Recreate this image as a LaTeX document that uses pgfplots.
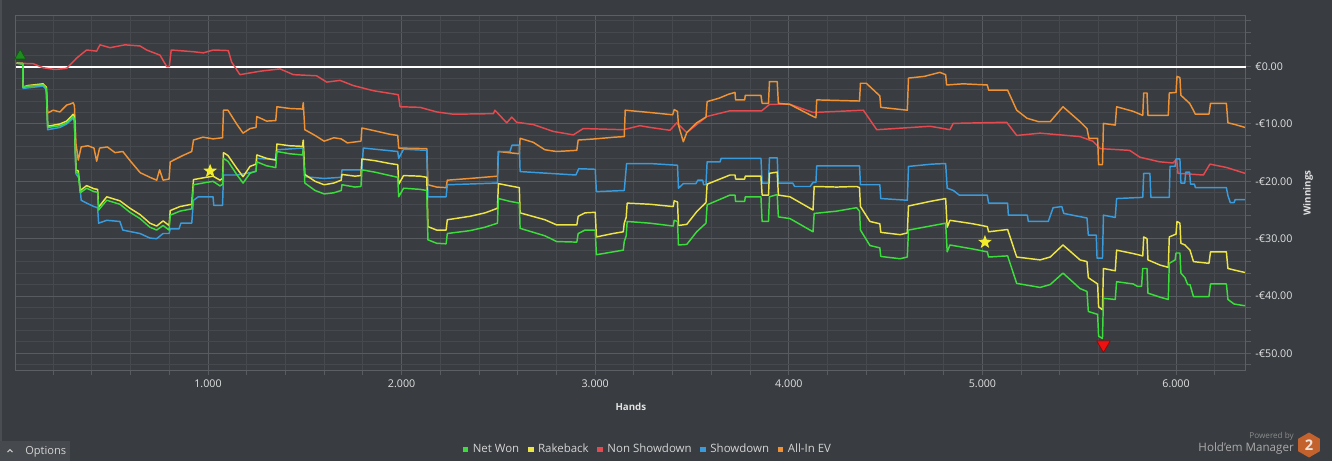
\documentclass[border=0pt]{standalone}
\usepackage{fontspec}
\setmainfont{Open Sans}
\usepackage{pgfplots}
\pgfplotsset{compat=1.18}
\definecolor{bg}{HTML}{393C40}
\definecolor{frame}{HTML}{5C5F63}
\definecolor{majgrid}{HTML}{585B5F}
\definecolor{mingrid}{HTML}{46494D}
\definecolor{ticktext}{HTML}{E2E2E2}
\definecolor{legtext}{HTML}{D4D4D4}
\definecolor{netwon}{HTML}{3CDC3C}
\definecolor{rakeback}{HTML}{EDE445}
\definecolor{nonsd}{HTML}{E24A4F}
\definecolor{sd}{HTML}{3A9BDC}
\definecolor{aiev}{HTML}{EE9235}
\definecolor{hexc}{HTML}{C4622D}
\definecolor{winborder}{HTML}{4A4D51}
\definecolor{optbox}{HTML}{46494D}
\definecolor{caretc}{HTML}{C8C8C8}
\definecolor{pby}{HTML}{8C8C8C}
\definecolor{hmc}{HTML}{ABABAB}
\definecolor{twoc}{HTML}{EDE3DA}
\definecolor{gtri}{HTML}{1E8C1E}
\definecolor{gtrid}{HTML}{0F5A0F}
\definecolor{rtri}{HTML}{EE1111}
\definecolor{rtrid}{HTML}{A00000}
\definecolor{starc}{HTML}{F2EC2A}
\pgfdeclareplotmark{fstar}{%
  \pgfpathmoveto{\pgfpointpolar{90}{\pgfplotmarksize}}%
  \pgfpathlineto{\pgfpointpolar{126}{0.42\pgfplotmarksize}}%
  \pgfpathlineto{\pgfpointpolar{162}{\pgfplotmarksize}}%
  \pgfpathlineto{\pgfpointpolar{198}{0.42\pgfplotmarksize}}%
  \pgfpathlineto{\pgfpointpolar{234}{\pgfplotmarksize}}%
  \pgfpathlineto{\pgfpointpolar{270}{0.42\pgfplotmarksize}}%
  \pgfpathlineto{\pgfpointpolar{306}{\pgfplotmarksize}}%
  \pgfpathlineto{\pgfpointpolar{342}{0.42\pgfplotmarksize}}%
  \pgfpathlineto{\pgfpointpolar{18}{\pgfplotmarksize}}%
  \pgfpathlineto{\pgfpointpolar{54}{0.42\pgfplotmarksize}}%
  \pgfpathclose\pgfusepathqfill}
\begin{document}
\begin{tikzpicture}
\fill[bg] (0pt,0pt) rectangle (999pt,-345.75pt);
\useasboundingbox (0pt,0pt) rectangle (999pt,-345.75pt);
\begin{scope}[x=0.75pt,y=-0.75pt]
\fill[winborder] (0,0) rectangle (1.5,441);
\fill[optbox] (0,441) rectangle (70,461);
\draw[caretc,line width=0.8pt] (7.5,452) -- (10,449.5) -- (12.5,452);
\node[anchor=base west,inner sep=0pt,text=legtext,font=\fontsize{8.3}{10}\selectfont] at (25,454.5) {Options};
\node[anchor=base east,inner sep=0pt,text=pby,font=\fontsize{6.1}{7}\selectfont] at (1294,438.5) {Powered by};
\node[anchor=base east,inner sep=0pt,text=hmc,font=\fontsize{8.7}{10}\selectfont] at (1294,451.5) {Hold'em Manager};
\fill[hexc] (1309,432.5) -- (1319.8,438.75) -- (1319.8,451.25) -- (1309,457.5) -- (1298.2,451.25) -- (1298.2,438.75) -- cycle;
\node[inner sep=0pt,text=twoc,font=\bfseries\fontsize{11}{12}\selectfont] at (1309,445) {2};
\end{scope}
\begin{axis}[
  at={(12pt,-11.25pt)}, anchor=north west,
  scale only axis, width=922.3pt, height=266.25pt,
  xmin=8.3, xmax=6360, ymin=-52.9, ymax=9.0,
  axis line style={draw=frame, line width=0.75pt},
  xtick={1000,2000,3000,4000,5000,6000},
  xticklabels={1.000,2.000,3.000,4.000,5.000,6.000},
  minor xtick={200,400,600,800,1200,1400,1600,1800,2200,2400,2600,2800,3200,3400,3600,3800,4200,4400,4600,4800,5200,5400,5600,5800,6200},
  ytick={0,-10,-20,-30,-40,-50},
  yticklabels={€0.00,-€10.00,-€20.00,-€30.00,-€40.00,-€50.00},
  minor ytick={8,6,4,2,-2,-4,-6,-8,-12,-14,-16,-18,-22,-24,-26,-28,-32,-34,-36,-38,-42,-44,-46,-48,-52},
  grid=both,
  major grid style={draw=majgrid, line width=0.75pt},
  minor grid style={draw=mingrid, line width=0.75pt},
  tick align=outside, xtick pos=left, ytick pos=right, yticklabel pos=right,
  major tick length=3.75pt, minor tick length=3.75pt,
  tick style={draw=majgrid, line width=0.75pt},
  xticklabel style={font=\fontsize{8}{9}\selectfont, text=ticktext},
  yticklabel style={font=\fontsize{8}{9}\selectfont, text=ticktext, anchor=west},
  xlabel={Hands}, ylabel={Winnings},
  xlabel style={at={(axis description cs:0.5,-0.104)}, anchor=center, font=\bfseries\fontsize{7.3}{9}\selectfont, text=ticktext},
  ylabel style={at={(axis description cs:1.0507,0.4986)}, anchor=center, font=\bfseries\fontsize{7.3}{9}\selectfont, text=ticktext},
  legend columns=5,
  legend style={at={(axis description cs:0.5136,-0.2234)}, anchor=center, draw=none, fill=none, text=legtext, font=\fontsize{8.6}{10}\selectfont, nodes={inner sep=1pt}, /tikz/every odd column/.append style={column sep=2.4pt}, /tikz/every even column/.append style={column sep=5.6pt}},
  legend image code/.code={\path[#1] (0pt,-2.05pt) rectangle (4.1pt,2.05pt);},
  every axis plot/.append style={line width=1.1pt, line join=round},
]
\addlegendimage{fill=netwon,draw=none}\addlegendentry{Net Won}
\addlegendimage{fill=rakeback,draw=none}\addlegendentry{Rakeback}
\addlegendimage{fill=nonsd,draw=none}\addlegendentry{Non Showdown}
\addlegendimage{fill=sd,draw=none}\addlegendentry{Showdown}
\addlegendimage{fill=aiev,draw=none}\addlegendentry{All-In EV}

\addplot[white, line width=1.5pt, forget plot] coordinates {(8.3,0) (6360,0)};

% Non Showdown
\addplot[nonsd, forget plot] coordinates {
(12,0.6) (98,0.5) (149,-0.2) (210,-0.5) (270,-0.3) (322,1.5) (373,2.9) (425,2.7) (442,3.8) (494,3.3) (571,3.8) (649,3.6) (683,2.9) (752,2.0) (787,0.0) (800,0.0) (810,2.9) (924,2.6) (976,2.4) (1027,2.9) (1105,2.8) (1122,0.8) (1165,-1.4) (1269,-0.8) (1372,-0.4) (1441,-1.4) (1561,-1.6) (1613,-2.7) (1682,-2.4) (1750,-3.3) (1854,-4.2) (1983,-4.9) (1992,-7.0) (2095,-7.1) (2181,-7.9) (2267,-8.3) (2474,-8.2) (2482,-7.6) (2543,-9.8) (2569,-8.8) (2594,-9.7) (2680,-10.1) (2783,-11.3) (2887,-11.9) (2938,-10.8) (3145,-11.0) (3231,-10.3) (3283,-10.6) (3386,-11.1) (3421,-9.8) (3473,-11.5) (3576,-8.7) (3696,-7.7) (3860,-7.7) (3900,-6.6) (4000,-6.5) (4126,-8.0) (4385,-7.6) (4454,-11.0) (4729,-10.4) (4800,-10.8) (4832,-11.0) (4849,-9.9) (5125,-9.7) (5177,-12.0) (5298,-11.6) (5504,-12.2) (5570,-13.0) (5608,-14.3) (5760,-14.6) (5814,-15.8) (5915,-16.6) (5985,-16.8) (6003,-16.1) (6010,-18.6) (6141,-18.9) (6175,-17.0) (6262,-17.6) (6356,-18.6)
};

% All-In EV
\addplot[aiev, forget plot] coordinates {
(12,0.6) (43,0.5) (45,-3.6) (70,-3.4) (148,-3.2) (165,-3.6) (172,-8.1) (200,-7.6) (235,-7.9) (270,-6.7) (290,-6.5) (304,-6.3) (310,-6.8) (318,-13.4) (330,-16.3) (345,-14.0) (380,-13.8) (411,-14.2) (425,-16.5) (440,-14.2) (480,-14.0) (520,-15.0) (560,-14.8) (600,-16.5) (650,-18.5) (700,-19.3) (735,-19.8) (750,-18.0) (768,-19.8) (799,-19.6) (805,-16.6) (870,-15.5) (916,-14.8) (925,-12.8) (974,-12.3) (1026,-12.6) (1075,-12.4) (1080,-7.6) (1103,-7.6) (1148,-10.0) (1181,-11.6) (1217,-10.8) (1248,-10.6) (1252,-8.7) (1303,-9.5) (1350,-9.4) (1356,-7.0) (1423,-7.3) (1488,-7.4) (1492,-6.3) (1500,-11.0) (1553,-12.0) (1600,-13.0) (1650,-12.4) (1688,-12.6) (1720,-13.3) (1790,-13.0) (1795,-10.7) (1862,-11.2) (1940,-11.8) (1980,-12.0) (1985,-14.2) (2130,-14.3) (2136,-20.6) (2181,-21.0) (2230,-21.1) (2236,-19.8) (2353,-19.5) (2495,-19.1) (2500,-14.8) (2608,-15.2) (2612,-12.5) (2680,-13.2) (2740,-14.5) (2800,-14.8) (2905,-14.6) (2912,-12.8) (3000,-12.6) (3100,-12.3) (3150,-12.2) (3155,-7.6) (3283,-8.0) (3400,-8.4) (3408,-7.5) (3425,-7.8) (3430,-10.2) (3455,-13.1) (3473,-11.5) (3524,-9.8) (3572,-8.8) (3578,-6.1) (3640,-5.5) (3690,-4.8) (3722,-4.5) (3725,-5.8) (3772,-5.8) (3775,-5.0) (3856,-5.0) (3862,-6.4) (3895,-6.4) (3900,-2.6) (3940,-2.6) (3946,-6.4) (4006,-6.6) (4126,-8.7) (4140,-8.9) (4144,-5.8) (4365,-6.0) (4370,-2.9) (4400,-2.9) (4470,-5.1) (4475,-7.1) (4612,-7.6) (4618,-2.0) (4700,-1.7) (4780,-1.0) (4810,-1.4) (4815,-3.2) (4900,-3.0) (5025,-3.2) (5032,-4.1) (5130,-4.1) (5177,-7.6) (5230,-9.0) (5290,-9.6) (5350,-9.6) (5416,-7.0) (5504,-9.6) (5540,-10.8) (5550,-12.5) (5595,-12.5) (5600,-17.1) (5620,-17.1) (5625,-9.9) (5686,-10.2) (5693,-7.0) (5779,-7.8) (5828,-8.5) (5833,-4.6) (5850,-4.6) (5855,-8.5) (5960,-8.5) (5965,-4.6) (6000,-4.5) (6005,-1.7) (6020,-1.9) (6025,-5.0) (6070,-6.4) (6080,-7.0) (6100,-8.3) (6170,-8.3) (6178,-6.4) (6260,-6.4) (6268,-9.8) (6305,-10.1) (6356,-10.6)
};

% Showdown
\addplot[sd, forget plot] coordinates {
(12,0.6) (43,0.5) (45,-3.8) (70,-3.7) (148,-3.4) (165,-4.0) (172,-11.0) (235,-10.6) (270,-10.0) (304,-9.0) (310,-9.5) (318,-18.7) (335,-19.5) (345,-23.3) (373,-23.8) (411,-24.4) (430,-24.6) (435,-27.3) (477,-26.8) (545,-27.0) (560,-28.5) (649,-29.1) (700,-29.9) (735,-30.0) (768,-29.1) (799,-29.1) (805,-28.3) (850,-28.3) (860,-27.3) (916,-27.3) (925,-23.3) (950,-22.7) (1026,-22.7) (1030,-24.2) (1075,-24.2) (1080,-18.9) (1150,-18.9) (1248,-18.3) (1252,-16.0) (1350,-16.2) (1356,-14.5) (1488,-14.2) (1492,-14.2) (1500,-19.2) (1600,-19.5) (1688,-19.3) (1692,-18.0) (1795,-18.0) (1802,-14.2) (1980,-14.8) (1985,-16.0) (2010,-14.4) (2130,-14.6) (2136,-22.7) (2230,-22.7) (2236,-20.6) (2495,-20.3) (2500,-14.8) (2560,-14.8) (2570,-13.7) (2608,-13.7) (2612,-18.3) (2900,-18.9) (2915,-17.8) (3000,-17.9) (3006,-21.8) (3150,-21.6) (3162,-16.9) (3283,-16.9) (3425,-17.2) (3430,-21.2) (3455,-20.4) (3520,-20.4) (3530,-19.8) (3555,-19.8) (3560,-20.6) (3572,-20.6) (3578,-16.6) (3645,-16.6) (3650,-16.0) (3780,-16.0) (3856,-16.0) (3862,-20.3) (3895,-20.3) (3900,-15.9) (3940,-15.9) (3946,-20.3) (4020,-20.3) (4030,-20.9) (4110,-20.9) (4125,-20.2) (4140,-20.2) (4144,-17.3) (4365,-17.3) (4370,-20.6) (4470,-20.6) (4475,-23.0) (4612,-23.3) (4618,-17.4) (4740,-17.0) (4810,-16.9) (4818,-21.2) (4850,-21.6) (4880,-22.4) (5025,-22.4) (5032,-23.8) (5130,-23.8) (5134,-25.9) (5232,-25.9) (5237,-27.0) (5340,-27.0) (5365,-24.6) (5410,-24.4) (5420,-25.6) (5540,-26.4) (5547,-29.4) (5588,-29.4) (5592,-33.4) (5620,-33.4) (5625,-25.9) (5686,-26.3) (5693,-23.0) (5828,-22.8) (5833,-18.6) (5865,-18.6) (5870,-22.8) (5965,-22.8) (5969,-17.4) (5995,-17.4) (6000,-16.1) (6020,-16.1) (6025,-20.3) (6045,-20.3) (6050,-18.4) (6070,-18.4) (6075,-20.5) (6095,-20.5) (6100,-21.1) (6260,-21.1) (6268,-22.5) (6280,-23.7) (6300,-23.7) (6305,-23.2) (6356,-23.2)
};

% Rakeback
\addplot[rakeback, forget plot] coordinates {
(12,0.6) (43,0.55) (45,-3.55) (70,-3.3) (148,-3.0) (165,-3.6) (172,-10.4) (235,-10.0) (270,-9.5) (304,-8.3) (310,-8.8) (318,-18.0) (330,-18.2) (340,-21.6) (373,-20.75) (411,-21.3) (430,-21.4) (435,-24.5) (477,-22.7) (545,-23.4) (597,-24.7) (649,-25.8) (700,-27.3) (735,-27.8) (768,-26.9) (799,-27.7) (805,-25.1) (855,-24.4) (916,-24.0) (925,-19.7) (974,-19.4) (1026,-19.1) (1062,-19.8) (1075,-19.5) (1080,-15.0) (1103,-15.5) (1148,-17.7) (1181,-19.2) (1217,-17.4) (1248,-17.0) (1252,-15.4) (1303,-16.0) (1350,-16.3) (1356,-13.5) (1423,-13.8) (1488,-13.9) (1492,-12.8) (1500,-18.8) (1553,-20.0) (1600,-20.6) (1650,-20.3) (1688,-19.8) (1692,-18.8) (1759,-19.1) (1790,-19.0) (1795,-16.1) (1862,-16.4) (1940,-16.9) (1980,-17.1) (1985,-20.5) (2010,-19.0) (2095,-19.1) (2130,-19.3) (2136,-27.9) (2181,-28.5) (2230,-28.5) (2236,-26.7) (2353,-26.1) (2431,-25.5) (2495,-24.7) (2500,-20.4) (2560,-20.8) (2608,-21.1) (2612,-25.5) (2740,-26.7) (2801,-27.6) (2905,-27.6) (2912,-26.1) (2947,-25.5) (3000,-25.4) (3006,-29.7) (3092,-29.1) (3145,-28.8) (3150,-27.3) (3160,-26.3) (3165,-23.8) (3283,-24.0) (3403,-24.4) (3408,-23.4) (3425,-23.6) (3430,-27.7) (3473,-27.5) (3524,-25.3) (3572,-23.7) (3578,-20.5) (3696,-18.9) (3722,-18.9) (3725,-19.6) (3772,-19.6) (3775,-19.1) (3856,-19.1) (3862,-22.4) (3895,-22.4) (3900,-18.6) (3940,-18.4) (3946,-22.4) (4006,-22.7) (4125,-25.0) (4131,-20.9) (4247,-21.0) (4350,-20.9) (4365,-21.1) (4370,-24.4) (4419,-27.0) (4470,-27.4) (4475,-28.9) (4575,-29.3) (4612,-29.0) (4618,-24.3) (4730,-23.5) (4810,-23.0) (4818,-28.0) (4832,-26.8) (4950,-27.4) (5025,-27.9) (5032,-28.8) (5130,-28.4) (5177,-33.2) (5298,-33.7) (5350,-33.2) (5416,-31.1) (5504,-33.7) (5540,-34.0) (5547,-36.8) (5595,-37.9) (5600,-41.9) (5620,-42.4) (5625,-35.2) (5686,-35.6) (5693,-32.0) (5779,-32.6) (5828,-33.0) (5833,-29.7) (5850,-30.0) (5855,-33.7) (5917,-34.6) (5960,-35.0) (5965,-29.7) (6000,-29.2) (6005,-27.0) (6020,-27.3) (6025,-30.8) (6046,-31.1) (6072,-32.0) (6090,-34.0) (6170,-34.3) (6178,-32.3) (6260,-32.3) (6268,-35.2) (6305,-35.5) (6356,-35.9)
};

% Net Won
\addplot[netwon, forget plot] coordinates {
(12,0.6) (43,0.5) (45,-3.6) (70,-3.4) (148,-3.2) (165,-3.8) (172,-10.6) (235,-10.3) (270,-9.8) (304,-8.7) (310,-9.2) (318,-18.4) (330,-18.6) (340,-22.0) (373,-21.2) (411,-21.8) (430,-21.9) (435,-25.0) (477,-23.3) (545,-24.0) (597,-25.4) (649,-26.5) (700,-28.0) (735,-28.5) (768,-27.7) (799,-28.5) (805,-25.9) (855,-25.2) (916,-24.8) (925,-20.6) (974,-20.3) (1026,-20.0) (1062,-20.8) (1075,-20.5) (1080,-16.0) (1103,-16.5) (1148,-18.8) (1181,-20.3) (1217,-18.6) (1248,-18.2) (1252,-16.6) (1303,-17.3) (1350,-17.6) (1356,-14.8) (1423,-15.2) (1488,-15.4) (1492,-14.3) (1500,-20.3) (1553,-21.6) (1600,-22.2) (1650,-22.0) (1688,-21.6) (1692,-20.6) (1759,-21.0) (1790,-20.9) (1795,-18.0) (1862,-18.4) (1940,-19.0) (1980,-19.3) (1985,-22.7) (2010,-21.2) (2095,-21.4) (2130,-21.6) (2136,-30.2) (2181,-30.8) (2230,-30.9) (2236,-29.1) (2353,-28.6) (2431,-28.0) (2495,-27.3) (2500,-23.0) (2560,-23.5) (2608,-23.8) (2612,-28.2) (2740,-29.5) (2801,-30.5) (2905,-30.6) (2912,-29.1) (2947,-28.5) (3000,-28.5) (3006,-32.8) (3092,-32.3) (3145,-32.0) (3150,-30.5) (3160,-29.5) (3165,-27.0) (3283,-27.3) (3403,-27.8) (3408,-26.8) (3425,-27.0) (3430,-31.1) (3473,-31.0) (3524,-28.8) (3572,-27.3) (3578,-24.1) (3696,-22.4) (3722,-22.4) (3725,-23.5) (3772,-23.5) (3775,-22.7) (3856,-22.7) (3862,-27.0) (3895,-27.0) (3900,-22.7) (3940,-22.3) (3946,-26.2) (4006,-26.5) (4125,-28.8) (4131,-25.6) (4247,-25.2) (4350,-24.6) (4365,-25.2) (4370,-28.5) (4419,-31.2) (4470,-31.6) (4475,-33.1) (4575,-33.5) (4612,-33.2) (4618,-28.5) (4730,-27.8) (4810,-27.3) (4818,-32.3) (4832,-31.1) (4950,-31.8) (5025,-32.3) (5032,-33.2) (5130,-33.0) (5177,-37.8) (5298,-38.5) (5350,-38.0) (5416,-36.0) (5504,-38.7) (5540,-39.2) (5547,-42.7) (5595,-43.2) (5600,-47.0) (5620,-47.4) (5625,-40.4) (5686,-40.6) (5693,-37.5) (5779,-37.9) (5800,-38.3) (5822,-38.3) (5828,-35.2) (5850,-35.2) (5855,-39.5) (5917,-40.2) (5960,-40.6) (5965,-34.3) (5995,-33.7) (6000,-32.5) (6020,-32.5) (6025,-36.0) (6046,-36.8) (6060,-38.0) (6072,-38.0) (6090,-40.1) (6170,-40.1) (6178,-37.9) (6260,-37.9) (6268,-40.6) (6300,-41.4) (6356,-41.7)
};

% markers
\addplot[only marks, mark=triangle*, mark size=4.8pt, mark options={fill=gtri, draw=gtrid, line width=0.5pt}, forget plot] coordinates {(30,1.9)};
\addplot[only marks, mark=triangle*, mark size=5.8pt, mark options={rotate=180, fill=rtri, draw=rtrid, line width=0.5pt}, forget plot] coordinates {(5625,-48.5)};
\addplot[only marks, mark=fstar, mark size=5.4pt, mark options={fill=starc}, forget plot] coordinates {(1011,-18.2) (5013,-30.6)};
\end{axis}
\end{tikzpicture}
\end{document}
